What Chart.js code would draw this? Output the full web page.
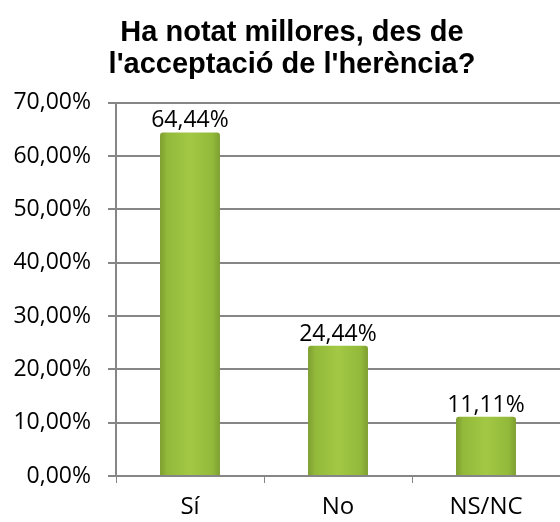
<!DOCTYPE html>
<html>
<head>
<meta charset="utf-8">
<script src="https://cdn.jsdelivr.net/npm/chart.js@4"></script>
<style>
  html, body { margin: 0; padding: 0; background: #fff; }
  canvas { display: block; }
</style>
</head>
<body>
<canvas id="chart" width="560" height="522"></canvas>
<script>
// ================= DATA =================
const categories = ["Sí", "No", "NS/NC"];
const values = [64.44, 24.44, 11.11];
const titleLines = ["Ha notat millores, des de", "l'acceptació de l'herència?"];
const yTicks = [0, 10, 20, 30, 40, 50, 60, 70];

function pct(v) {
    return v.toFixed(2).replace(".", ",") + "%";
}

// bar fill: darker edges, lighter middle, like the Excel bevel
function barFill(ctx) {
    const chart = ctx.chart;
    const xs = chart.scales.x;
    if (!xs || ctx.dataIndex === undefined) return "#9BC13E";
    const cx = xs.getPixelForValue(ctx.dataIndex);
    if (!isFinite(cx)) return "#9BC13E";
    const half = 30;
    const g = chart.ctx.createLinearGradient(cx - half, 0, cx + half, 0);
    g.addColorStop(0, "#7E9E30");
    g.addColorStop(0.12, "#93B93A");
    g.addColorStop(0.5, "#A2C845");
    g.addColorStop(0.88, "#93B93A");
    g.addColorStop(1, "#7E9E30");
    return g;
}

// ================= VALUE LABELS =================
const valueLabels = {
    id: "valueLabels",
    afterLayout(chart) {
        // title sits a little right of the canvas centre in the original
        if (chart.titleBlock) {
            chart.titleBlock.left += 8;
            chart.titleBlock.right += 8;
        }
    },
    afterDatasetsDraw(chart) {
        const c = chart.ctx;
        const meta = chart.getDatasetMeta(0);
        c.save();
        c.font = "23px 'Open Sans'";
        c.fillStyle = "#000";
        c.textAlign = "center";
        c.textBaseline = "bottom";
        meta.data.forEach((bar, i) => {
            c.fillText(pct(values[i]), bar.x, bar.y);
        });
        c.restore();
    }
};

new Chart(document.getElementById("chart"), {
    type: "bar",
    data: {
        labels: categories,
        datasets: [{
            data: values,
            backgroundColor: barFill,
            borderWidth: 0,
            borderRadius: { topLeft: 3, topRight: 3 },
            borderSkipped: "bottom",
            categoryPercentage: 1,
            barPercentage: 0.405
        }]
    },
    options: {
        responsive: false,
        animation: false,
        layout: { padding: { left: 8, right: 0, top: 4, bottom: 0 } },
        plugins: {
            legend: { display: false },
            tooltip: { enabled: false },
            title: {
                display: true,
                text: titleLines,
                color: "#000",
                font: { family: "'Liberation Sans', Arial", size: 29, weight: "bold", lineHeight: 1.1 },
                padding: { top: 13, bottom: 22 }
            }
        },
        scales: {
            x: {
                afterFit(axis) {
                    axis.height = 46;
                },
                grid: {
                    drawOnChartArea: false,
                    color: "#868686",
                    tickLength: 7,
                    tickColor: "#868686"
                },
                border: { color: "#868686", width: 2 },
                ticks: {
                    color: "#000",
                    font: { family: "'Open Sans'", size: 24 },
                    padding: 10
                }
            },
            y: {
                min: 0,
                max: 70,
                afterBuildTicks(axis) {
                    axis.ticks = yTicks.map(v => ({ value: v }));
                },
                afterFit(axis) {
                    axis.width = 108;
                },
                grid: {
                    color: "#868686",
                    lineWidth: 2,
                    tickLength: 8
                },
                border: { color: "#868686", width: 2 },
                ticks: {
                    color: "#000",
                    font: { family: "'Open Sans'", size: 23 },
                    padding: 17,
                    callback: v => pct(v)
                }
            }
        }
    },
    plugins: [valueLabels]
});
</script>
</body>
</html>
